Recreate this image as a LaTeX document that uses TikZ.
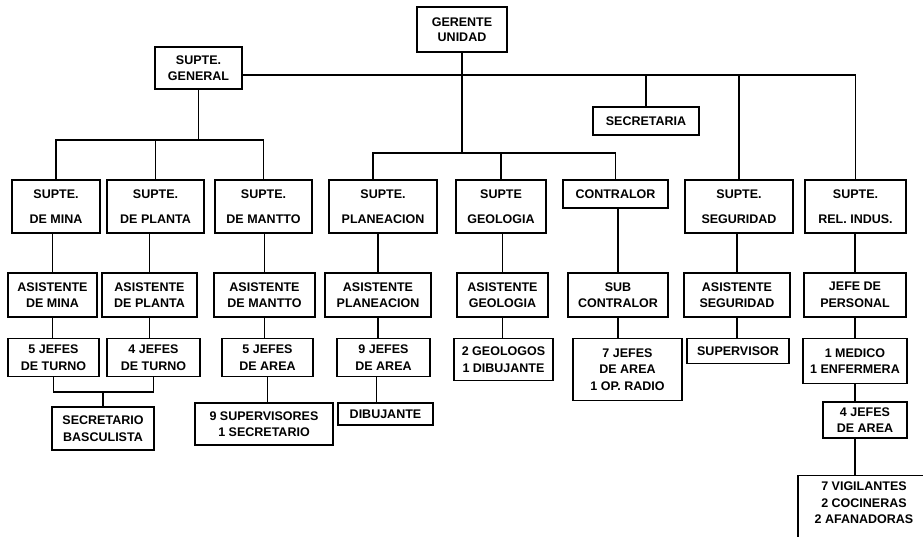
\documentclass[tikz,border=0pt]{standalone}
\usepackage{fontspec}
\setmainfont{Liberation Sans}
\usetikzlibrary{positioning}

\begin{document}
\begin{tikzpicture}[x=1pt,y=-1pt,
    box/.style={draw,line width=1.3pt,align=center,inner sep=2pt,
                font=\fontsize{12.5}{16.5}\selectfont\bfseries},
    link/.style={line width=1.3pt}]
  \fill[white] (0,0) rectangle (923,536);
  \useasboundingbox (0,0) rectangle (923,536);
  \clip (0,0) rectangle (923,536);
  % bus levels
  \coordinate (bus1) at (0,75);
  \coordinate (bus2) at (0,153);
  \coordinate (bus3) at (0,140);
  \coordinate (tj) at (0,392);

  \node[box,minimum width=90,minimum height=45,font=\fontsize{12.5}{15}\selectfont\bfseries]
       (ger) at (462,29.5) {GERENTE\\UNIDAD};
  \node[box,minimum width=87,minimum height=42] (gen) at (198.5,68) {SUPTE.\\GENERAL};
  \node[box,minimum width=106,minimum height=28] (sec) at (646,121) {SECRETARIA};
  \node[box,minimum width=105,minimum height=28] (contr) at (615.5,194) {CONTRALOR};

  % superintendents
  \foreach \nm/\x/\w/\txt in {%
    mina/56/88/{SUPTE.\\[8pt]DE MINA},
    planta/155.5/97/{SUPTE.\\[8pt]DE PLANTA},
    mantto/263.5/97/{SUPTE.\\[8pt]DE MANTTO},
    plan/383/108/{SUPTE.\\[8pt]PLANEACION},
    geo/501/90/{SUPTE\\[8pt]GEOLOGIA},
    segu/739/108/{SUPTE.\\[8pt]SEGURIDAD},
    rel/855.5/101/{SUPTE.\\[8pt]REL. INDUS.}}
  {
    \node[box,minimum width=\w,minimum height=53] (\nm) at (\x,206.5) {\txt};
  }

  % assistants
  \foreach \nm/\x/\w/\txt in {%
    amina/52.5/89/{ASISTENTE\\DE MINA},
    aplanta/149.5/95/{ASISTENTE\\DE PLANTA},
    amantto/264.5/101/{ASISTENTE\\DE MANTTO},
    aplan/378/106/{ASISTENTE\\PLANEACION},
    ageo/502.5/91/{ASISTENTE\\GEOLOGIA},
    subc/618/100/{SUB\\CONTRALOR},
    aseg/737/106/{ASISTENTE\\SEGURIDAD},
    jper/855/102/{JEFE DE\\PERSONAL}}
  {
    \node[box,minimum width=\w,minimum height=44] (\nm) at (\x,295) {\txt};
  }

  % chiefs
  \foreach \nm/\x/\w/\h/\txt in {%
    jt5/53.5/91/38/{5 JEFES\\DE TURNO},
    jt4/153.5/93/38/{4 JEFES\\DE TURNO},
    ja5/267.5/91/38/{5 JEFES\\DE AREA},
    ja9/383.5/93/38/{9 JEFES\\DE AREA},
    geol/503.5/99/42/{2 GEOLOGOS\\1 DIBUJANTE},
    jarad/627.5/109/62/{7 JEFES\\DE AREA\\1 OP. RADIO},
    supv/738/102/25/{SUPERVISOR},
    med/855/104/45/{1 MEDICO\\1 ENFERMERA}}
  {
    \node[box,anchor=north,minimum width=\w,minimum height=\h] (\nm) at (\x,338) {\txt};
  }

  \node[box,minimum width=102,minimum height=43] (basc) at (103,428.5) {SECRETARIO\\BASCULISTA};
  \node[box,minimum width=138,minimum height=42] (sup9) at (264,424) {9 SUPERVISORES\\1 SECRETARIO};
  \node[box,minimum width=95,minimum height=22] (dib) at (385.5,414) {DIBUJANTE};
  \node[box,minimum width=84,minimum height=36] (ja4) at (865,420) {4 JEFES\\DE AREA};
  \node[box,anchor=north,minimum width=132,minimum height=76] (vig) at (864,475)
       {7 VIGILANTES\\2 COCINERAS\\2 AFANADORAS\\\strut};

  % connectors
  \draw[link] (ger.south) -- (ger.south |- bus2);
  \draw[link] (gen.east |- bus1) -| (rel.north);
  \draw[link] (sec.north |- bus1) -- (sec.north);
  \draw[link] (segu.north |- bus1) -- (segu.north);
  \draw[link] ([xshift=-10pt]plan.north) |- (contr.north |- bus2) -- (contr.north);
  \draw[link] (geo.north) -- (geo.north |- bus2);
  \draw[link] (gen.south) -- (gen.south |- bus3);
  \draw[link] (mina.north) |- (mantto.north |- bus3) -- (mantto.north);
  \draw[link] (planta.north) -- (planta.north |- bus3);
  \foreach \a/\b in {mina/amina,planta/aplanta,mantto/amantto,plan/aplan,
                     geo/ageo,contr/subc,segu/aseg,rel/jper}
    \draw[link] (\b.north |- \a.south) -- (\b.north);
  \foreach \a/\b in {amina/jt5,aplanta/jt4,amantto/ja5,aplan/ja9,
                     ageo/geol,subc/jarad,aseg/supv,jper/med}
    \draw[link] (\a.south) -- (\a.south |- \b.north);
  \draw[link] (jt5.south) |- (jt4.south |- tj) -- (jt4.south);
  \draw[link] (basc.north |- tj) -- (basc.north);
  \draw[link] (ja5.south) -- (ja5.south |- sup9.north);
  \draw[link] ([xshift=-7pt]ja9.south) -- ([xshift=-7pt]ja9.south |- dib.north);
  \draw[link] (med.south) -- (med.south |- ja4.north);
  \draw[link] (med.south |- ja4.south) -- (med.south |- vig.north);
\end{tikzpicture}
\end{document}
